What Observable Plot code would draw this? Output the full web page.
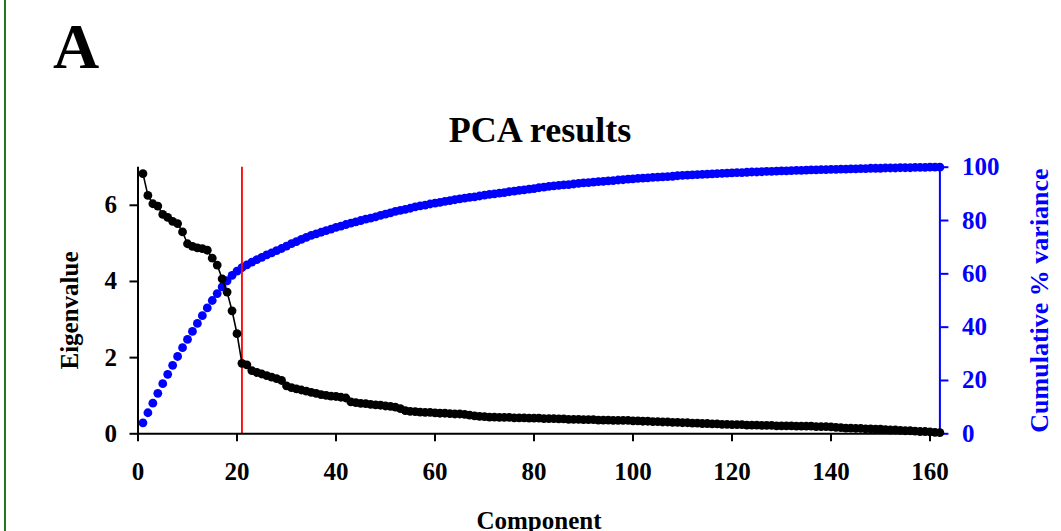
<!DOCTYPE html>
<html>
<head>
<meta charset="utf-8">
<script src="https://cdn.jsdelivr.net/npm/d3@7"></script>
<script src="https://cdn.jsdelivr.net/npm/@observablehq/plot@0.6"></script>
<style>
  html, body { margin: 0; padding: 0; background: #fff; }
  #wrap { position: relative; width: 1061px; height: 531px; overflow: hidden; background: #fff; font-family: "Liberation Serif", "Times New Roman", serif; font-weight: bold; }
  #border { position: absolute; left: 4px; top: 0; width: 2px; height: 531px; background: #217a21; }
  #panel { position: absolute; left: 53px; top: 15px; font-size: 64px; line-height: 1; }
  #title { position: absolute; left: 440px; top: 112px; width: 200px; text-align: center; font-size: 36px; line-height: 1; white-space: nowrap; }
  .layer { position: absolute; left: 0; top: 0; }
</style>
</head>
<body>
<div id="wrap">
  <div id="border"></div>
  <div class="layer" id="blueLayer"></div>
  <div class="layer" id="blackLayer"></div>
  <div id="panel">A</div>
  <div id="title">PCA results</div>
</div>
<script>
// ---- data ----
const eigenvalues = [6.83, 6.26, 6.04, 5.98, 5.76, 5.68, 5.58, 5.52, 5.30, 4.99,
  4.92, 4.88, 4.86, 4.82, 4.61, 4.43, 4.07, 3.72, 3.23, 2.63,
  1.85, 1.81, 1.66, 1.61, 1.57, 1.53, 1.49, 1.45, 1.40,
  1.26, 1.21, 1.18, 1.15, 1.12, 1.09, 1.06, 1.03, 1.01, 0.99, 0.98, 0.96, 0.94,
  0.84, 0.82, 0.80, 0.79, 0.77, 0.76, 0.75, 0.73, 0.72, 0.70,
  0.66, 0.61, 0.59, 0.58, 0.57, 0.56, 0.56, 0.55, 0.54, 0.54, 0.53, 0.52, 0.52, 0.51,
  0.49, 0.47, 0.46, 0.45,
  0.44, 0.44, 0.43, 0.43, 0.43, 0.42, 0.42, 0.42, 0.41, 0.41, 0.41, 0.40, 0.40, 0.40,
  0.39, 0.39, 0.38, 0.38, 0.38, 0.37, 0.37, 0.37, 0.36, 0.36, 0.36, 0.35, 0.35, 0.35, 0.35,
  0.34, 0.34, 0.33, 0.33, 0.32, 0.32, 0.31, 0.31, 0.30, 0.30, 0.29, 0.29, 0.28, 0.28, 0.27, 0.27, 0.26, 0.26, 0.25, 0.25, 0.24,
  0.24, 0.24, 0.23, 0.23, 0.23, 0.22, 0.22, 0.22, 0.21, 0.21, 0.21, 0.21, 0.20, 0.20, 0.20, 0.20, 0.19, 0.19, 0.19, 0.18,
  0.17, 0.16, 0.15, 0.15, 0.14, 0.14, 0.13, 0.13, 0.12, 0.12, 0.11, 0.10, 0.10, 0.09, 0.08, 0.08, 0.07, 0.06, 0.06, 0.05, 0.04, 0.03];

const cumulativePct = [4.1, 7.9, 11.5, 15.2, 18.8, 22.3, 25.7, 29.0, 32.3, 35.4,
  38.4, 41.4, 44.3, 47.2, 50.0, 52.6, 55.1, 57.4, 59.4, 61.0, 62.3, 63.4,
  64.4, 65.3, 66.2, 67.1, 67.9, 68.7, 69.5,
  70.4, 71.3, 72.1, 72.9, 73.7, 74.4, 75.0, 75.6, 76.2, 76.8,
  77.4, 77.9, 78.5, 79.0, 79.5, 80.0, 80.5, 80.9, 81.4,
  81.9, 82.4, 82.9, 83.4, 83.8, 84.2, 84.6, 85.1, 85.5,
  85.8, 86.2, 86.5, 86.8, 87.2, 87.5, 87.8, 88.1, 88.4,
  88.7, 88.9, 89.2, 89.5, 89.8, 90.0, 90.3, 90.5, 90.8,
  91.0, 91.3, 91.5, 91.8, 92.0, 92.3, 92.5, 92.8, 93.0,
  93.2, 93.4, 93.5, 93.7, 93.9, 94.1, 94.2, 94.4, 94.6,
  94.7, 94.9, 95.0, 95.2, 95.3, 95.5, 95.6, 95.8, 95.9,
  96.0, 96.2, 96.3, 96.4, 96.5, 96.6, 96.8, 96.9, 97.0,
  97.1, 97.2, 97.3, 97.4, 97.5, 97.6, 97.7, 97.8, 97.9,
  98.0, 98.0, 98.1, 98.2, 98.2, 98.3, 98.4, 98.4, 98.5,
  98.6, 98.6, 98.7, 98.8, 98.8, 98.9, 99.0, 99.0, 99.1,
  99.1, 99.2, 99.2, 99.3, 99.3, 99.4, 99.4, 99.5, 99.5,
  99.6, 99.6, 99.6, 99.7, 99.7, 99.7, 99.8, 99.8, 99.8, 99.9, 99.9, 99.9, 100.0, 100.0, 100.0];

const componentTicks = [0, 20, 40, 60, 80, 100, 120, 140, 160];
const eigenTicks = [0, 2, 4, 6];
const pctTicks = [0, 20, 40, 60, 80, 100];
const cutoffComponent = [21];
const componentDomain = [0, 162];
const eigenDomain = [0, 7];
const pctDomain = [0, 100];

const eigenData = eigenvalues.map((v, i) => ({component: i + 1, value: v}));
const pctData = cumulativePct.map((v, i) => ({component: i + 1, value: v}));

// ---- shared frame ----
const W = 1061, H = 531;
const frame = {width: W, height: H, marginLeft: 137.5, marginRight: 121.6, marginTop: 166.7, marginBottom: 97.7};
const baseStyle = {fontFamily: "'Liberation Serif', 'Times New Roman', serif", fontWeight: "bold", fontSize: "25px", background: "transparent", overflow: "visible"};

// Layer 1: cumulative % variance (right axis, blue)
const bluePlot = Plot.plot({
  ...frame,
  style: baseStyle,
  x: {domain: componentDomain, axis: null},
  y: {domain: pctDomain, axis: null},
  marks: [
    Plot.ruleX([componentDomain[1]], {stroke: "#0000ff", strokeWidth: 2}),
    Plot.axisY(pctTicks, {anchor: "right", tickSize: 8, tickPadding: 14, color: "#0000ff", strokeWidth: 2, label: null, fontSize: 25, tickFormat: d => d}),
    Plot.dot(pctData, {x: "component", y: "value", r: 4.4, fill: "#0000ff", stroke: "none"}),
    Plot.text(["Cumulative % variance"], {text: d => d, frameAnchor: "right", textAnchor: "middle", dx: 100, rotate: -90, fill: "#0000ff", fontSize: 26})
  ]
});
document.getElementById("blueLayer").append(bluePlot);

// Layer 2: eigenvalues (left axis, black) + cutoff line
const blackPlot = Plot.plot({
  ...frame,
  style: baseStyle,
  x: {domain: componentDomain, axis: null},
  y: {domain: eigenDomain, axis: null},
  marks: [
    Plot.ruleX(cutoffComponent, {stroke: "#ff0000", strokeWidth: 1.8}),
    Plot.ruleY([0], {stroke: "#000", strokeWidth: 2}),
    Plot.ruleX([0], {stroke: "#000", strokeWidth: 2}),
    Plot.axisX(componentTicks, {anchor: "bottom", tickSize: 8, tickPadding: 20, strokeWidth: 2, label: null, fontSize: 25, tickFormat: d => d}),
    Plot.axisY(eigenTicks, {anchor: "left", tickSize: 8, tickPadding: 13, strokeWidth: 2, label: null, fontSize: 25, tickFormat: d => d}),
    Plot.line(eigenData, {x: "component", y: "value", stroke: "#000", strokeWidth: 1.6}),
    Plot.dot(eigenData, {x: "component", y: "value", r: 4.4, fill: "#000", stroke: "none"}),
    Plot.text(["Eigenvalue"], {text: d => d, frameAnchor: "left", textAnchor: "middle", dx: -68, dy: 10, rotate: -90, fontSize: 25}),
    Plot.text(["Component"], {text: d => d, frameAnchor: "bottom", textAnchor: "middle", dy: 95, fontSize: 25})
  ]
});
document.getElementById("blackLayer").append(blackPlot);
</script>
</body>
</html>
